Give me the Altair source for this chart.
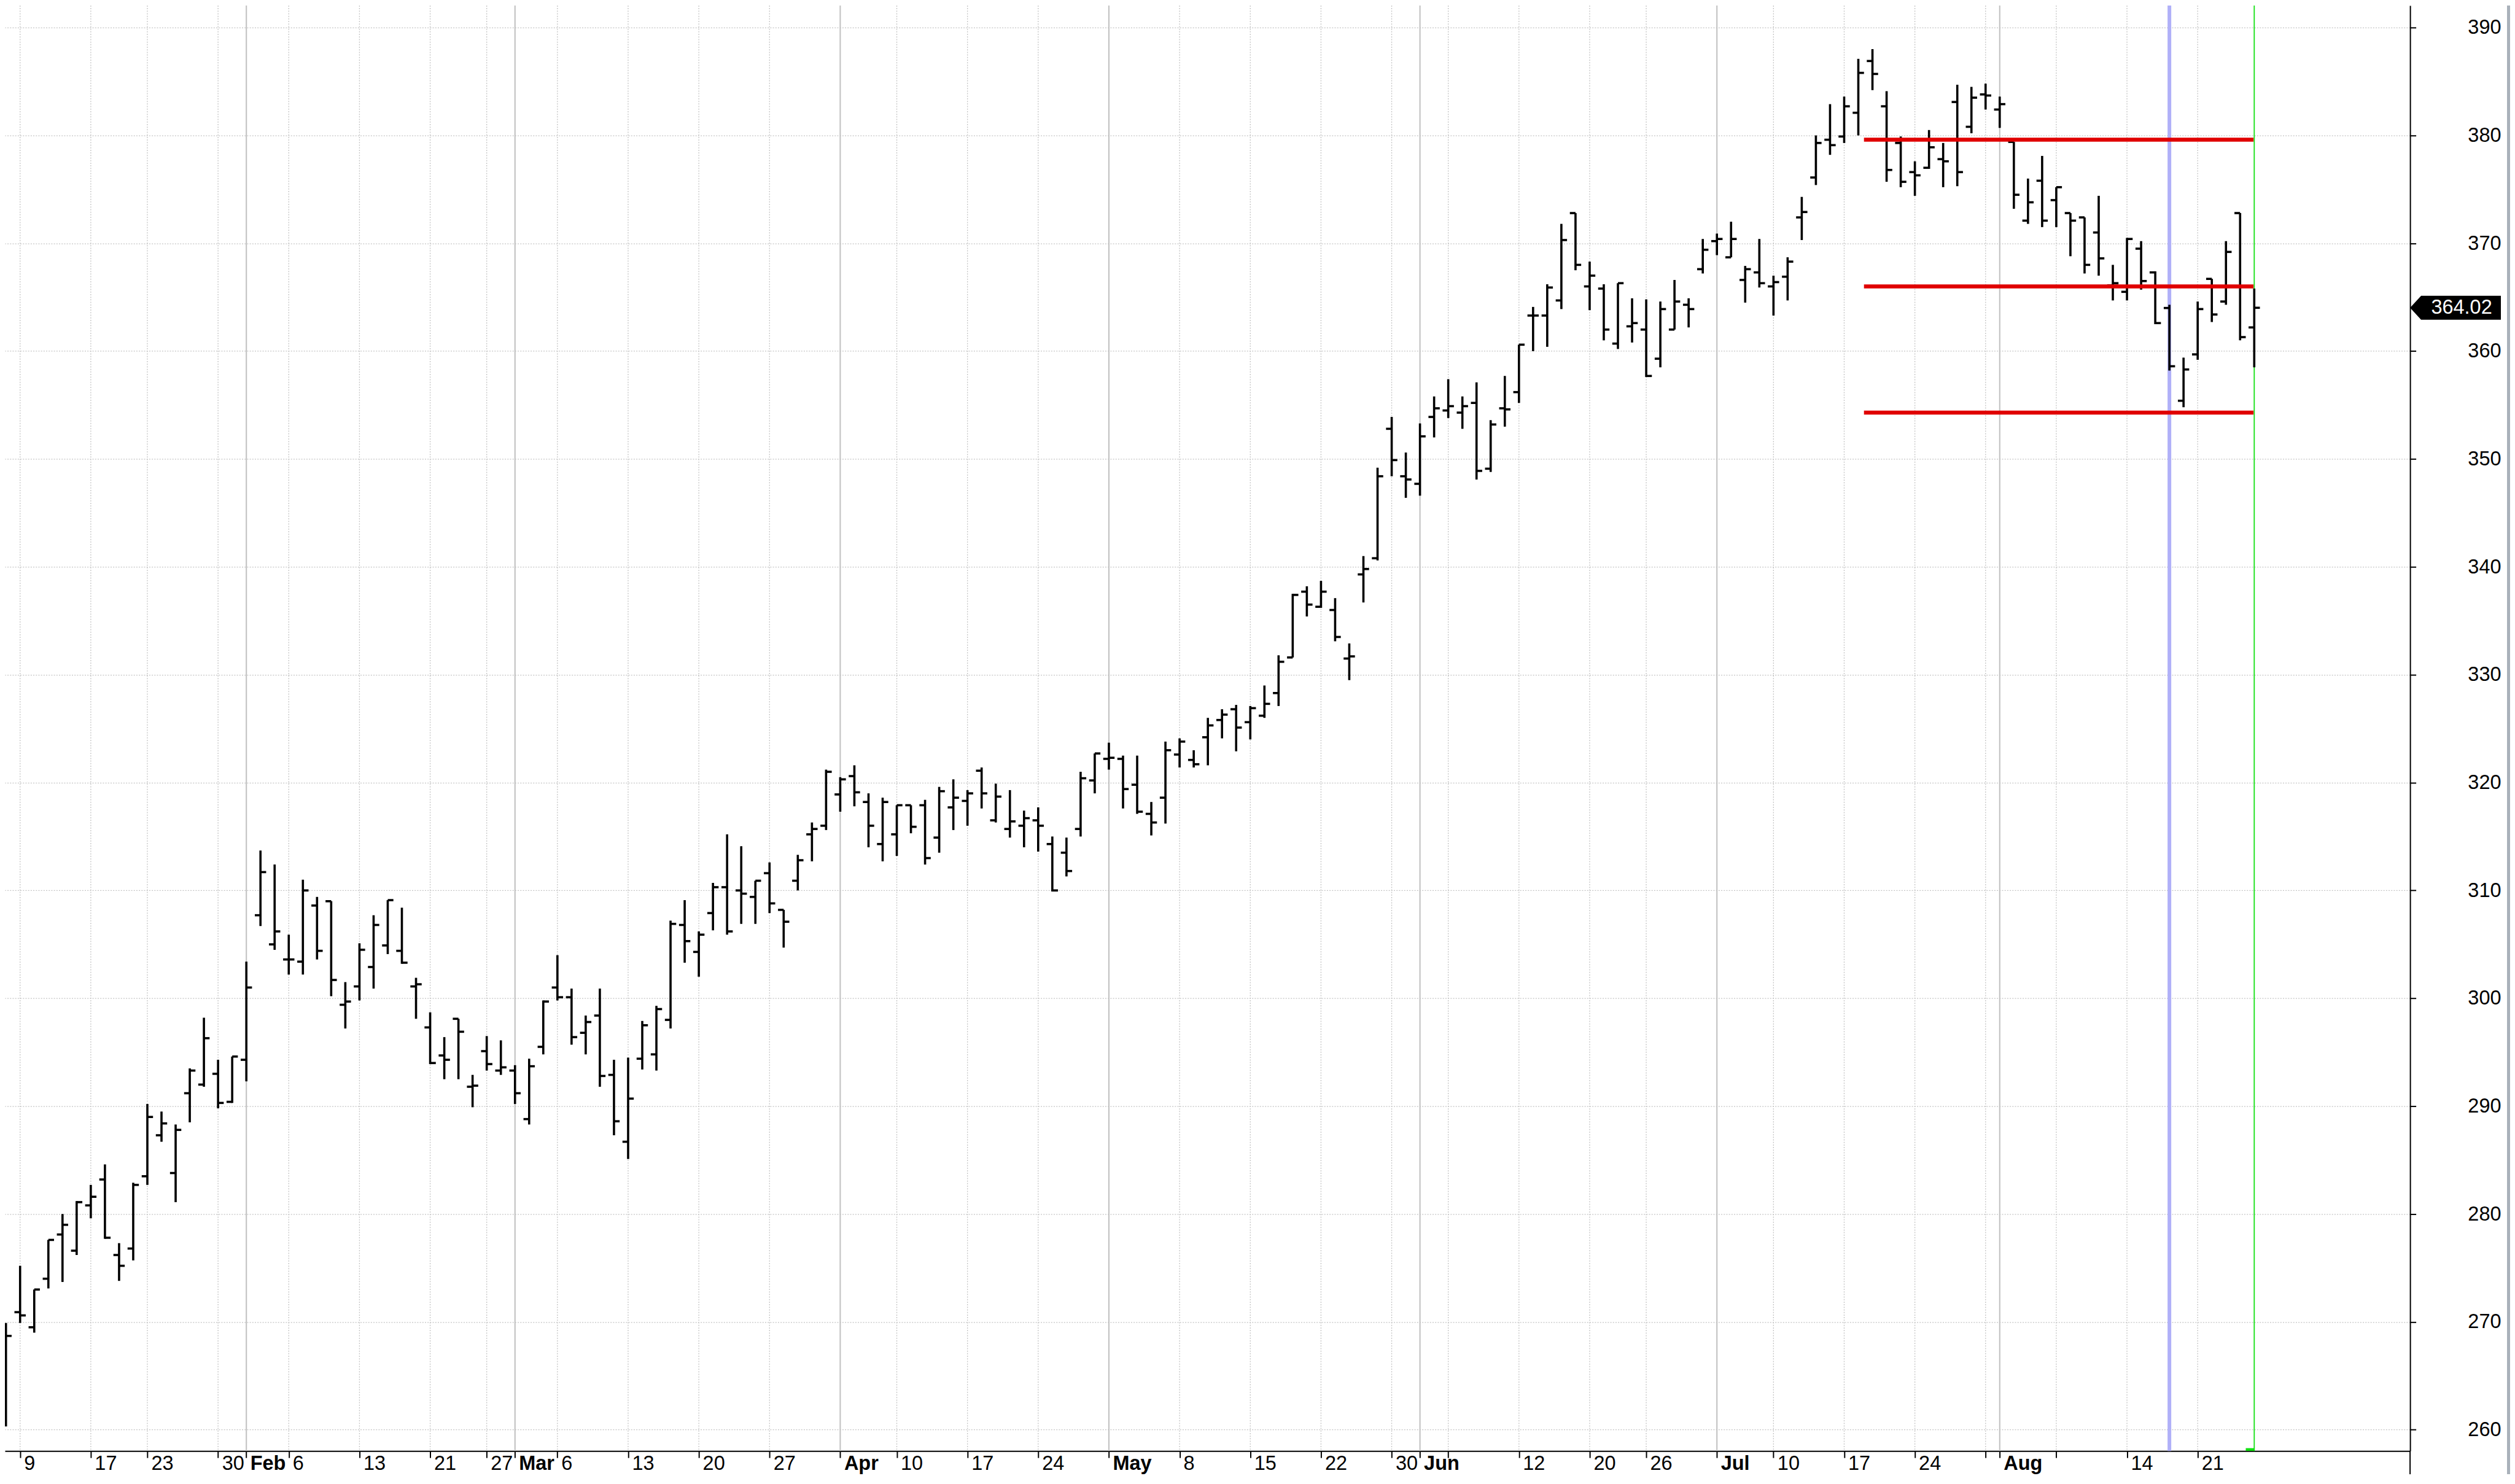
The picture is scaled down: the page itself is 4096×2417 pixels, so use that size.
import json
import altair as alt
import pandas as pd

# ---------------- data ----------------
opens = [263.4, 270.9, 269.5, 274.0, 278.1, 276.6, 280.8, 283.2, 276.2, 276.8,
         283.5, 287.3, 283.8, 291.2, 292.0, 293.0, 290.4, 294.3, 307.7, 305.0,
         303.6, 303.4, 308.6, 309.0, 299.4, 301.1, 302.9, 304.9, 304.4, 301.1,
         297.3, 294.7, 298.1, 291.8, 295.1, 293.3, 293.3, 288.8, 295.5, 301.0,
         300.1, 296.8, 298.4, 292.9, 286.7, 294.4, 294.8, 298.0, 306.8, 304.3,
         307.9, 310.3, 310.0, 309.4, 311.6, 308.2, 310.9, 315.2, 316.0, 318.9,
         320.6, 318.2, 314.3, 315.2, 317.9, 317.9, 314.9, 317.7, 318.3, 321.1,
         316.5, 315.7, 316.0, 316.5, 314.3, 313.5, 315.7, 320.2, 322.2, 322.2,
         319.8, 317.1, 318.6, 322.6, 322.1, 324.2, 325.8, 326.8, 325.6, 326.2,
         328.3, 331.6, 337.7, 336.3, 336.0, 331.5, 339.3, 340.8, 352.8, 348.4,
         347.7, 353.9, 354.5, 354.3, 355.2, 349.1, 354.7, 356.2, 363.3, 363.3,
         364.7, 372.8, 366.0, 365.8, 360.7, 362.3, 362.0, 359.3, 362.0, 364.3,
         367.6, 370.2, 368.7, 366.6, 367.3, 366.0, 366.9, 372.4, 376.1, 379.6,
         379.9, 382.1, 386.9, 382.7, 379.3, 376.6, 377.0, 377.8, 383.1, 380.8,
         383.8, 382.4, 379.4, 372.1, 375.8, 374.0, 372.8, 372.4, 371.0, 366.1,
         365.5, 369.5, 367.3, 364.0, 355.4, 359.7, 366.7, 364.6, 372.8, 362.2]
highs = [269.9, 275.2, 273.0, 277.6, 280.0, 281.2, 282.7, 284.6, 277.3, 282.9,
         290.2, 289.5, 288.3, 293.5, 298.2, 294.3, 294.6, 303.4, 313.7, 312.4,
         305.9, 311.0, 309.4, 309.0, 301.5, 305.1, 307.7, 309.1, 308.4, 301.9,
         298.7, 296.4, 298.1, 292.9, 296.5, 296.1, 293.8, 294.4, 299.8, 304.0,
         300.9, 298.4, 300.9, 294.3, 294.5, 297.9, 299.3, 307.2, 309.1, 306.2,
         310.7, 315.2, 314.1, 310.9, 312.6, 308.2, 313.3, 316.3, 321.2, 320.5,
         321.6, 319.0, 318.6, 317.9, 317.9, 318.4, 319.6, 320.3, 319.3, 321.4,
         319.9, 319.3, 317.4, 317.7, 315.0, 314.9, 321.0, 322.7, 323.7, 322.5,
         322.5, 318.2, 323.8, 324.1, 323.0, 326.0, 326.8, 327.2, 327.1, 329.0,
         331.8, 337.5, 338.2, 338.7, 337.1, 332.9, 341.0, 349.2, 353.9, 350.6,
         353.3, 355.8, 357.4, 355.8, 357.1, 353.6, 357.7, 360.6, 364.1, 366.2,
         371.8, 372.8, 368.3, 366.2, 366.3, 364.9, 364.8, 364.6, 366.6, 364.9,
         370.4, 370.9, 372.0, 367.9, 370.4, 367.0, 368.7, 374.3, 380.0, 382.9,
         383.6, 387.1, 388.0, 384.1, 379.9, 377.6, 380.5, 379.3, 384.7, 384.5,
         384.8, 383.6, 379.4, 376.0, 378.1, 375.2, 372.8, 372.4, 374.4, 368.0,
         370.5, 370.2, 367.4, 364.3, 359.4, 364.6, 366.7, 370.2, 372.8, 365.8]
lows = [260.3, 269.9, 269.0, 273.1, 273.7, 276.2, 279.6, 277.7, 273.8, 275.7,
        282.7, 286.7, 281.1, 288.5, 291.8, 289.8, 290.3, 292.3, 306.7, 304.5,
        302.2, 302.2, 303.6, 300.2, 297.2, 299.8, 300.9, 304.1, 303.2, 298.1,
        293.9, 292.5, 292.5, 289.9, 293.3, 292.9, 290.2, 288.3, 294.8, 299.8,
        295.7, 294.8, 291.8, 287.3, 285.1, 293.4, 293.3, 297.2, 303.3, 302.0,
        306.3, 305.9, 306.9, 306.9, 307.9, 304.7, 310.0, 312.7, 315.6, 317.3,
        317.8, 314.0, 312.7, 313.2, 315.3, 312.4, 313.5, 315.6, 316.0, 317.6,
        316.3, 314.9, 314.0, 313.6, 309.9, 311.3, 315.0, 319.0, 321.2, 317.6,
        317.1, 315.1, 316.2, 321.4, 321.4, 321.6, 324.1, 322.9, 324.0, 326.0,
        327.1, 331.6, 335.4, 336.2, 333.1, 329.5, 336.7, 340.6, 348.4, 346.4,
        346.6, 352.0, 353.8, 352.8, 348.1, 348.8, 353.0, 355.2, 360.0, 360.4,
        363.9, 367.5, 363.8, 361.0, 360.2, 360.8, 357.6, 358.5, 362.0, 362.2,
        367.2, 368.9, 368.7, 364.5, 365.9, 363.3, 364.7, 370.3, 375.4, 378.2,
        379.3, 380.0, 384.2, 375.7, 375.2, 374.4, 376.9, 375.2, 375.3, 380.2,
        382.4, 380.7, 373.2, 371.8, 371.5, 371.5, 368.8, 367.2, 367.0, 364.7,
        364.7, 365.7, 362.5, 358.2, 354.8, 359.2, 362.7, 364.3, 361.0, 358.5]
closes = [268.7, 270.6, 273.0, 277.6, 279.0, 281.1, 281.6, 277.8, 275.2, 282.7,
          289.0, 288.4, 287.8, 293.3, 296.3, 290.3, 294.6, 301.0, 311.7, 306.2,
          303.6, 310.0, 304.4, 301.7, 299.7, 304.5, 306.8, 309.1, 303.3, 301.3,
          294.0, 294.3, 296.9, 291.9, 293.9, 293.6, 291.2, 293.7, 299.7, 300.1,
          296.4, 297.8, 292.8, 288.6, 290.7, 297.5, 299.0, 306.9, 305.3, 305.9,
          310.3, 306.2, 309.7, 310.9, 308.8, 307.1, 312.8, 315.7, 321.0, 320.3,
          319.1, 316.0, 318.2, 317.9, 315.9, 313.0, 319.2, 318.6, 319.0, 319.0,
          318.7, 316.4, 316.7, 316.0, 310.0, 311.8, 320.4, 322.7, 322.3, 319.4,
          317.3, 316.3, 323.0, 323.8, 321.7, 325.3, 326.3, 325.1, 326.9, 327.3,
          331.2, 337.4, 336.5, 337.7, 333.5, 331.7, 339.8, 348.4, 349.9, 348.1,
          352.1, 354.7, 354.9, 354.9, 348.9, 353.2, 354.6, 360.6, 363.3, 365.9,
          370.3, 368.0, 367.0, 362.0, 366.3, 362.6, 357.7, 363.9, 364.6, 363.9,
          369.4, 370.4, 370.4, 367.6, 366.3, 366.4, 368.3, 372.9, 379.3, 379.1,
          382.7, 385.8, 385.7, 376.8, 375.7, 376.3, 378.9, 377.6, 376.6, 383.5,
          383.7, 382.9, 374.5, 373.8, 372.1, 375.2, 372.1, 368.0, 368.6, 366.3,
          370.4, 366.5, 362.6, 358.6, 358.3, 363.9, 363.4, 369.2, 361.3, 364.02]

# x-axis ticks: trading-day index of each week / month start, and their labels
tick_idx = [1, 6, 10, 15, 17, 20, 25, 30, 34, 36, 39, 44, 49, 54, 59, 63, 68, 73,
            78, 83, 88, 93, 98, 100, 102, 107, 112, 116, 121, 125, 130, 135, 140,
            141, 145, 150, 155]
tick_text = ["9", "17", "23", "30", "Feb", "6", "13", "21", "27", "Mar", "6", "13",
             "20", "27", "Apr", "10", "17", "24", "May", "8", "15", "22", "30", "Jun",
             "", "12", "20", "26", "Jul", "10", "17", "24", "", "Aug", "", "14", "21"]
month_idx = [17, 36, 59, 78, 100, 121, 141]
week_idx = [i for i in tick_idx if i not in month_idx]
y_ticks = [260, 270, 280, 290, 300, 310, 320, 330, 340, 350, 360, 370, 380, 390]

levels = [379.6, 366.0, 354.3]
level_from = [131.4]
level_to = [158.95]
blue_marker = [153]
green_marker = [159]
last_price = [364.02]

# ---------------- layout ----------------
W = 3920
H = 2356
PX_PER_BAR = 23.046
PX_PER_UNIT = 17.58
x0 = -0.0738
xdom = [x0, x0 + W / PX_PER_BAR]
ytop = 392.05
ydom = [ytop - H / PX_PER_UNIT, ytop]
FONT = "Liberation Sans"
FS = 32.5
BAR_W = 3.6
TICK_HALF = 0.4  # half-width of open/close ticks in bar units

xs = alt.Scale(domain=xdom, nice=False, zero=False)
ys = alt.Scale(domain=ydom, nice=False, zero=False)

df = pd.DataFrame({"i": list(range(len(opens))), "o": opens, "h": highs,
                   "l": lows, "c": closes})

label_expr = f"{json.dumps(tick_text)}[indexof({json.dumps(tick_idx)}, datum.value)]"
x_axis = alt.Axis(
    values=tick_idx, labelExpr=label_expr, grid=False, title=None,
    orient="bottom", domainColor="black", domainWidth=2,
    tickColor="black", tickWidth=2, tickSize=11,
    labelAlign="left", labelBaseline="top", labelOffset=6, labelPadding=-7,
    labelFont=FONT, labelFontSize=FS, labelColor="black",
    labelOverlap=False, labelFlush=False,
    labelFontWeight={"condition": {"test": f"indexof({json.dumps(month_idx)}, datum.value) >= 0",
                                   "value": "bold"}, "value": "normal"},
)
y_axis = alt.Axis(
    orient="right", values=y_ticks, title=None, grid=True,
    gridColor="#c4c4c4", gridDash=[2, 2.2], gridWidth=1.3,
    domainColor="black", domainWidth=2, tickColor="black", tickWidth=2, tickSize=9.5,
    labelAlign="right", labelBaseline="middle", labelPadding=138.5,
    labelFont=FONT, labelFontSize=FS, labelColor="black",
)


def X(field):
    return alt.X(field, type="quantitative", scale=xs, axis=x_axis)


def Y(field):
    return alt.Y(field, type="quantitative", scale=ys, axis=y_axis)


# gridlines
weeks = alt.Chart(pd.DataFrame({"i": week_idx})).mark_rule(
    color="#c4c4c4", strokeWidth=1.3, strokeDash=[2, 2.2]
).encode(x=X("i"))
months = alt.Chart(pd.DataFrame({"i": month_idx})).mark_rule(
    color="#c2c2c2", strokeWidth=2.1
).encode(x=X("i"))

blue = alt.Chart(pd.DataFrame({"i": blue_marker})).mark_rule(
    color="#b0b0f8", strokeWidth=6
).encode(x=X("i"))
green = alt.Chart(pd.DataFrame({"i": green_marker})).mark_rule(
    color="#11e011", strokeWidth=1.8
).encode(x=X("i"))
green_foot = alt.Chart(pd.DataFrame({"i": green_marker})).transform_calculate(
    a="datum.i - 0.6"
).mark_rule(color="#11e011", strokeWidth=4.5).encode(
    x=X("a"), x2="i:Q", y=alt.value(H - 2.3)
)

# OHLC bars
hl = alt.Chart(df).mark_rule(color="black", strokeWidth=BAR_W).encode(
    x=X("i"), y=Y("l"), y2="h:Q",
)
op = alt.Chart(df).transform_calculate(a=f"datum.i - {TICK_HALF}").mark_rule(
    color="black", strokeWidth=BAR_W
).encode(x=X("a"), x2="i:Q", y=Y("o"))
cl = alt.Chart(df).transform_calculate(b=f"datum.i + {TICK_HALF}").mark_rule(
    color="black", strokeWidth=BAR_W
).encode(x=X("i"), x2="b:Q", y=Y("c"))

# horizontal levels
lv = pd.DataFrame({"p": levels, "a": level_from * len(levels), "b": level_to * len(levels)})
red = alt.Chart(lv).mark_rule(color="#e00000", strokeWidth=6.5).encode(
    x=X("a"), x2="b:Q", y=Y("p"),
)

# last-price tag on the right axis
tag_df = pd.DataFrame({"p": last_price, "t": [f"{v:.2f}" for v in last_price]})
tag_shape = "M -1 0 L -0.757 -0.2635 L 1 -0.2635 L 1 0.2635 L -0.757 0.2635 Z"
tag = alt.Chart(tag_df).mark_point(
    shape=tag_shape, size=148 * 148, filled=True, color="black", opacity=1, strokeWidth=0
).encode(x=alt.value(W + 74), y=Y("p"))
tag_text = alt.Chart(tag_df).mark_text(
    color="white", font=FONT, fontSize=FS, align="center", baseline="middle"
).encode(x=alt.value(W + 84), y=Y("p"), text="t:N")

# frame pieces outside the plot
edge = alt.Chart(pd.DataFrame({"k": [0]})).mark_rect(color="#a9b1ba").encode(
    x=alt.value(W + 158), x2=alt.value(W + 163), y=alt.value(0), y2=alt.value(H + 38)
)
axis_ext = alt.Chart(pd.DataFrame({"k": [0]})).mark_rule(color="black", strokeWidth=2).encode(
    x=alt.value(W), y=alt.value(H), y2=alt.value(H + 38)
)

chart = alt.layer(
    weeks, months, blue, green, hl, op, cl, red, green_foot, tag, tag_text, edge, axis_ext
).properties(
    width=W, height=H,
    autosize=alt.AutoSizeParams(type="none"),
    padding={"left": 0, "top": 0, "right": 163, "bottom": 38},
    background="white",
).configure_view(stroke=None)

chart.save("out.html", embed_options={"renderer": "svg", "actions": False})
